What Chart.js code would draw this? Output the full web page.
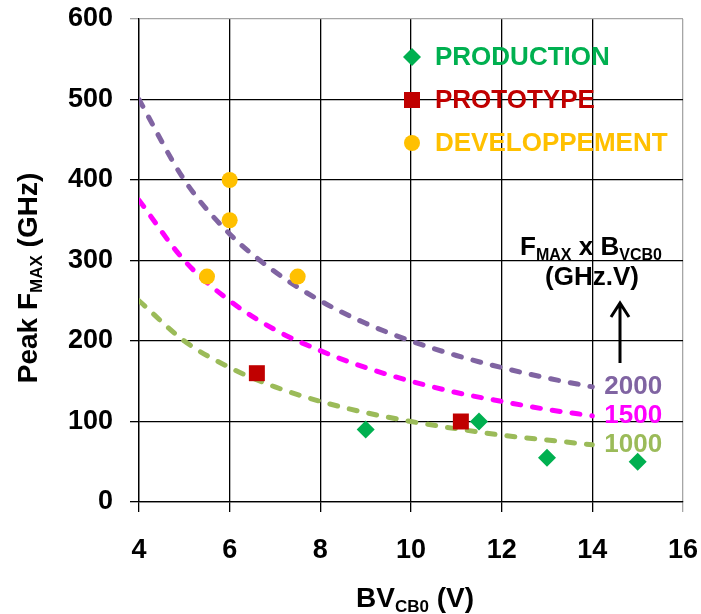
<!DOCTYPE html>
<html>
<head>
<meta charset="utf-8">
<script src="https://cdn.jsdelivr.net/npm/chart.js@4"></script>
<style>
  html, body { margin: 0; padding: 0; background: #fff; }
  #wrap { width: 701px; height: 614px; }
</style>
</head>
<body>
<div id="wrap"><canvas id="myChart" width="701" height="614"></canvas></div>
<script>
// measured devices (BVCB0 in V, peak Fmax in GHz)
var prodX = [9, 11.5, 13, 15];
var prodY = [90, 100, 55, 50];
var protoX = [6.6, 11.1];
var protoY = [160, 100];
var devX = [6, 6, 5.5, 7.5];
var devY = [400, 350, 280, 280];

// iso FMAX x BVCB0 curves at each volt
var curveX = [4, 5, 6, 7, 8, 9, 10, 11, 12, 13, 14];
var curve2000 = [500, 400, 333, 286, 250, 222, 200, 182, 167, 154, 143];
var curve1500 = [375, 300, 250, 214, 188, 167, 150, 136, 125, 115, 107];
var curve1000 = [250, 200, 167, 143, 125, 111, 100, 91, 83, 77, 71];
var curveNames = ["2000", "1500", "1000"];

var legendNames = ["PRODUCTION", "PROTOTYPE", "DEVELOPPEMENT"];
var xTicks = [4, 6, 8, 10, 12, 14, 16];
var yTicks = [0, 100, 200, 300, 400, 500, 600];

var FONT = '"Liberation Sans", Arial, sans-serif';
Chart.defaults.font.family = FONT;

function pts(xs, ys) {
  return xs.map(function (x, i) { return { x: x, y: ys[i] }; });
}

function richWidth(ctx, parts, big, small) {
  var w = 0;
  parts.forEach(function (p) {
    ctx.font = "bold " + (p.sub ? small : big) + "px " + FONT;
    w += ctx.measureText(p.t).width;
  });
  return w;
}

function drawRich(ctx, parts, x, y, big, small, dy) {
  ctx.textBaseline = "alphabetic";
  ctx.textAlign = "left";
  parts.forEach(function (p) {
    ctx.font = "bold " + (p.sub ? small : big) + "px " + FONT;
    ctx.fillText(p.t, x, p.sub ? y + dy : y);
    x += ctx.measureText(p.t).width;
  });
}

function marker(ctx, style, r, x, y) {
  ctx.beginPath();
  if (style === "rectRot") {
    ctx.moveTo(x, y - r); ctx.lineTo(x + r, y); ctx.lineTo(x, y + r); ctx.lineTo(x - r, y);
  } else if (style === "rect") {
    var h = Math.SQRT1_2 * r;
    ctx.rect(x - h, y - h, 2 * h, 2 * h);
  } else {
    ctx.arc(x, y, r, 0, Math.PI * 2);
  }
  ctx.closePath();
  ctx.fill();
}

var extras = {
  id: "extras",
  afterDatasetsDraw: function (chart) {
    var ctx = chart.ctx;
    var area = chart.chartArea;
    ctx.save();

    // legend inside plot
    var rowsY = [57, 100, 143];
    for (var i = 0; i < 3; i++) {
      var ds = chart.data.datasets[i];
      ctx.fillStyle = ds.backgroundColor;
      marker(ctx, ds.pointStyle, ds.pointRadius, 412, rowsY[i]);
      ctx.font = "bold 26px " + FONT;
      ctx.textBaseline = "middle";
      ctx.textAlign = "left";
      ctx.fillText(legendNames[i], 435, rowsY[i] + 1);
    }

    // curve end labels
    for (var j = 0; j < 3; j++) {
      var meta = chart.getDatasetMeta(3 + j);
      var last = meta.data[meta.data.length - 1];
      ctx.fillStyle = chart.data.datasets[3 + j].borderColor;
      ctx.font = "bold 26px " + FONT;
      ctx.textBaseline = "middle";
      ctx.textAlign = "left";
      ctx.fillText(curveNames[j], last.x + 12, last.y);
    }

    // product annotation + arrow
    ctx.fillStyle = "#000";
    var l1 = [{ t: "F" }, { t: "MAX", sub: 1 }, { t: " x B" }, { t: "VCB0", sub: 1 }];
    var w1 = richWidth(ctx, l1, 26, 16);
    drawRich(ctx, l1, 591 - w1 / 2, 255, 26, 16, 5);
    ctx.font = "bold 26px " + FONT;
    ctx.textAlign = "center";
    ctx.textBaseline = "alphabetic";
    ctx.fillText("(GHz.V)", 592, 285);

    ctx.strokeStyle = "#000";
    ctx.lineWidth = 3;
    ctx.beginPath();
    ctx.moveTo(620, 363); ctx.lineTo(620, 303);
    ctx.moveTo(611, 317); ctx.lineTo(620, 303); ctx.lineTo(629, 317);
    ctx.stroke();

    // axis titles with subscripts
    var xt = [{ t: "BV" }, { t: "CB0", sub: 1 }, { t: " (V)" }];
    var wx = richWidth(ctx, xt, 28, 17);
    drawRich(ctx, xt, (area.left + area.right) / 2 + 4 - wx / 2, 607, 28, 17, 5);

    var yt = [{ t: "Peak F" }, { t: "MAX", sub: 1 }, { t: " (GHz)" }];
    var wy = richWidth(ctx, yt, 28, 17);
    ctx.translate(37, 278);
    ctx.rotate(-Math.PI / 2);
    drawRich(ctx, yt, -wy / 2, 0, 28, 17, 5);

    ctx.restore();
  }
};

function curve(ys, color) {
  return {
    data: pts(curveX, ys),
    showLine: true,
    borderColor: color,
    backgroundColor: color,
    borderWidth: 5,
    borderDash: [8, 12],
    borderCapStyle: "round",
    cubicInterpolationMode: "monotone",
    pointRadius: 0
  };
}

function gridColor(edge) {
  return function (c) {
    return c.tick && c.tick.value === edge ? "#a6a6a6" : "#000";
  };
}

// let the layout padding alone decide where the plot sits
function noPad(s) {
  s.paddingTop = 0; s.paddingBottom = 0; s.paddingLeft = 0; s.paddingRight = 0;
}

var ctx = document.getElementById("myChart");

new Chart(ctx, {
  type: "scatter",
  data: {
    datasets: [
      { data: pts(prodX, prodY), pointStyle: "rectRot", pointRadius: 9, backgroundColor: "#00B050", borderWidth: 0 },
      { data: pts(protoX, protoY), pointStyle: "rect", pointRadius: 11.3, backgroundColor: "#C00000", borderWidth: 0 },
      { data: pts(devX, devY), pointStyle: "circle", pointRadius: 8, backgroundColor: "#FFC000", borderWidth: 0 },
      curve(curve2000, "#8064A2"),
      curve(curve1500, "#FF00FF"),
      curve(curve1000, "#9BBB59")
    ]
  },
  options: {
    responsive: false,
    animation: false,
    layout: { padding: { top: 19, right: 18, left: 0, bottom: 0 } },
    plugins: { legend: { display: false }, tooltip: { enabled: false } },
    scales: {
      x: {
        type: "linear",
        min: 4,
        max: 16,
        afterBuildTicks: function (s) { s.ticks = xTicks.map(function (v) { return { value: v }; }); },
        afterFit: function (s) { s.height = 112; noPad(s); },
        grid: { color: gridColor(16), lineWidth: 1.3, tickLength: 10 },
        border: { color: "#000", width: 1.3 },
        ticks: { color: "#000", font: { size: 27, weight: "bold" }, padding: 22, maxRotation: 0 }
      },
      y: {
        min: 0,
        max: 600,
        afterBuildTicks: function (s) { s.ticks = yTicks.map(function (v) { return { value: v }; }); },
        afterFit: function (s) { s.width = 139; noPad(s); },
        grid: { color: gridColor(600), lineWidth: 1.3, tickLength: 9 },
        border: { color: "#000", width: 1.3 },
        ticks: { color: "#000", font: { size: 27, weight: "bold" }, padding: 17 }
      }
    }
  },
  plugins: [extras]
});
</script>
</body>
</html>
